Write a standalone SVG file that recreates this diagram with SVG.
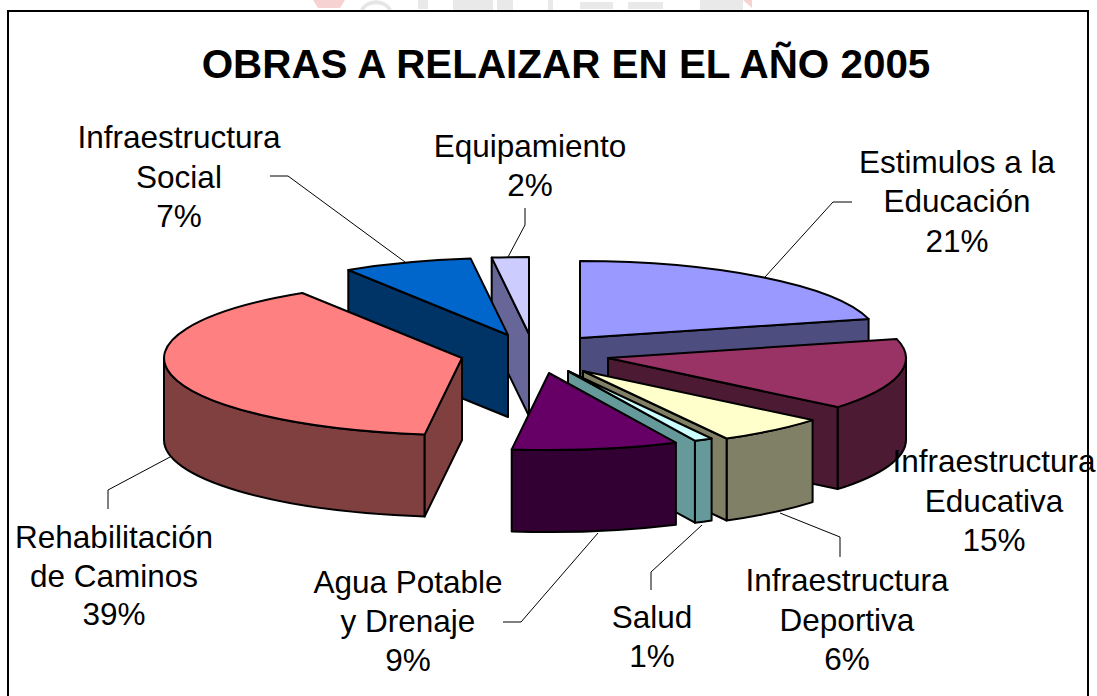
<svg xmlns="http://www.w3.org/2000/svg" width="1097" height="696" viewBox="0 0 1097 696">
<style>
.e{stroke:#000;stroke-width:2;stroke-linejoin:round}
.ld{fill:none;stroke:#000;stroke-width:1}
.t{font-family:"Liberation Sans",Arial,sans-serif;font-size:31.5px;fill:#000;text-anchor:middle}
.ti{font-family:"Liberation Sans",Arial,sans-serif;font-size:40.4px;font-weight:bold;fill:#000;text-anchor:middle}
.wm{fill:#e9e9e9}
</style>
<rect width="1097" height="696" fill="#fff"/>
<g id="watermark">
<path d="M313,0 L345,0 L340,8 L318,8 Z" fill="#f6d2d2"/>
<path d="M362,10 A15,12 0 0 1 390,10" fill="none" stroke="#e6e6e6" stroke-width="4"/>
<rect class="wm" x="418" y="0" width="10" height="9"/>
<rect class="wm" x="453" y="0" width="40" height="10"/>
<rect class="wm" x="497" y="0" width="16" height="10"/>
<rect class="wm" x="548" y="0" width="5" height="10"/>
<rect class="wm" x="580" y="2" width="33" height="7"/>
<rect class="wm" x="628" y="2" width="35" height="7"/>
<rect class="wm" x="700" y="0" width="43" height="10"/>
<path d="M743,0 L752,0 L752,8 Z" fill="#f6d2d2"/>
</g>
<rect id="frame" x="8" y="11" width="1080" height="700" fill="none" stroke="#000" stroke-width="2"/>
<text class="ti" x="566" y="78">OBRAS A RELAIZAR EN EL AÑO 2005</text>
<g id="slice-estimulos">
<path class="e" fill="#4D4D80" d="M580,338 L868.6,318.9 L868.6,400.9 L580,420 Z"/>
<path class="e" fill="#9999FF" d="M580,338 L580,261 A298,77 0 0 1 868.6,318.9 Z"/>
</g>
<g id="slice-equipamiento">
<path class="e" fill="#666699" d="M529,334 L491.7,257.6 L491.7,339.6 L529,416 Z"/>
<path class="e" fill="#CCCCFF" d="M529,334 L491.7,257.6 A298,77 0 0 1 529,257 Z"/>
</g>
<g id="slice-social">
<path class="e" fill="#003366" d="M508,335 L348.3,270 L348.3,352 L508,417 Z"/>
<path class="e" fill="#0066CC" d="M508,335 L348.3,270 A298,77 0 0 1 470.7,258.6 Z"/>
</g>
<g id="slice-educativa">
<path class="e" fill="#4D1A33" d="M906,358 A298,77 0 0 1 837.6,407.1 L837.6,489.1 A298,77 0 0 0 906,440 Z"/>
<path class="e" fill="#4D1A33" d="M608,358 L837.6,407.1 L837.6,489.1 L608,440 Z"/>
<path class="e" fill="#993366" d="M608,358 L896.6,338.9 A298,77 0 0 1 837.6,407.1 Z"/>
</g>
<g id="slice-rehabilitacion">
<path class="e" fill="#804040" d="M424.7,434.4 A298,77 0 0 1 164,358 L164,440 A298,77 0 0 0 424.7,516.4 Z"/>
<path class="e" fill="#804040" d="M462,358 L424.7,434.4 L424.7,516.4 L462,440 Z"/>
<path class="e" fill="#FF8080" d="M462,358 L424.7,434.4 A298,77 0 0 1 302.3,293 Z"/>
</g>
<g id="slice-deportiva">
<path class="e" fill="#808066" d="M812.6,420.1 A298,77 0 0 1 726.6,438.5 L726.6,520.5 A298,77 0 0 0 812.6,502.1 Z"/>
<path class="e" fill="#808066" d="M583,371 L726.6,438.5 L726.6,520.5 L583,453 Z"/>
<path class="e" fill="#FFFFCC" d="M583,371 L812.6,420.1 A298,77 0 0 1 726.6,438.5 Z"/>
</g>
<g id="slice-salud">
<path class="e" fill="#669999" d="M711.6,438.5 A298,77 0 0 1 694.9,440.7 L694.9,522.7 A298,77 0 0 0 711.6,520.5 Z"/>
<path class="e" fill="#669999" d="M568,371 L694.9,440.7 L694.9,522.7 L568,453 Z"/>
<path class="e" fill="#CCFFFF" d="M568,371 L711.6,438.5 A298,77 0 0 1 694.9,440.7 Z"/>
</g>
<g id="slice-agua">
<path class="e" fill="#330033" d="M675.9,442.7 A298,77 0 0 1 511.7,449.4 L511.7,531.4 A298,77 0 0 0 675.9,524.7 Z"/>
<path class="e" fill="#660066" d="M549,373 L675.9,442.7 A298,77 0 0 1 511.7,449.4 Z"/>
</g>
<g id="connectors">
<polyline class="ld" points="270,176 288,176 405,262"/>
<polyline class="ld" points="525,208 525,225 508,257"/>
<polyline class="ld" points="852,202 833,202 765,277"/>
<polyline class="ld" points="780,513 840,537 840,557"/>
<polyline class="ld" points="702,525 651,572 651,590"/>
<polyline class="ld" points="598,533 521,622 503,622"/>
<polyline class="ld" points="170,457 108,490 108,509"/>
</g>
<g id="label-social"><text class="t" x="179" y="148">Infraestructura</text><text class="t" x="179" y="188">Social</text><text class="t" x="179" y="227">7%</text></g>
<g id="label-equipamiento"><text class="t" x="530" y="157">Equipamiento</text><text class="t" x="530" y="196">2%</text></g>
<g id="label-estimulos"><text class="t" x="957" y="173">Estimulos a la</text><text class="t" x="957" y="212">Educación</text><text class="t" x="957" y="252">21%</text></g>
<g id="label-educativa"><text class="t" x="994" y="472">Infraestructura</text><text class="t" x="994" y="512">Educativa</text><text class="t" x="994" y="551">15%</text></g>
<g id="label-deportiva"><text class="t" x="847" y="591">Infraestructura</text><text class="t" x="847" y="631">Deportiva</text><text class="t" x="847" y="670">6%</text></g>
<g id="label-salud"><text class="t" x="652" y="628">Salud</text><text class="t" x="652" y="667">1%</text></g>
<g id="label-agua"><text class="t" x="408" y="593">Agua Potable</text><text class="t" x="408" y="632">y Drenaje</text><text class="t" x="408" y="671">9%</text></g>
<g id="label-rehabilitacion"><text class="t" x="114" y="548">Rehabilitación</text><text class="t" x="114" y="587">de Caminos</text><text class="t" x="114" y="625">39%</text></g>
</svg>
